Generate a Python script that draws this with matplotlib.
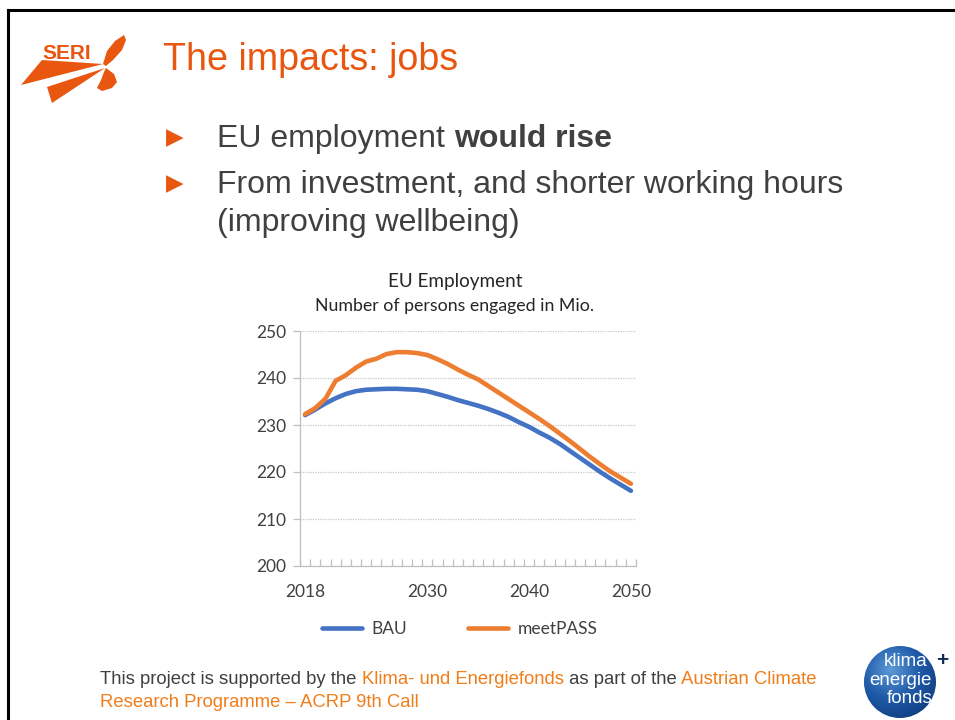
import matplotlib
matplotlib.use("Agg")
import matplotlib.pyplot as plt
import numpy as np
from matplotlib.patches import Polygon, Circle

years = list(range(2018, 2051))
bau = [232.1, 233.3, 234.6, 235.7, 236.6, 237.2, 237.5, 237.6, 237.7, 237.7,
       237.6, 237.5, 237.2, 236.6, 236.0, 235.3, 234.7, 234.1, 233.4, 232.6,
       231.7, 230.6, 229.6, 228.4, 227.3, 226.0, 224.5, 223.0, 221.5, 220.0,
       218.6, 217.3, 216.0]
meetpass = [232.3, 233.6, 235.6, 239.4, 240.6, 242.2, 243.5, 244.1, 245.1, 245.5,
            245.5, 245.3, 244.9, 244.0, 243.0, 241.8, 240.7, 239.7, 238.3, 236.9,
            235.5, 234.1, 232.7, 231.3, 229.8, 228.2, 226.6, 224.9, 223.2, 221.6,
            220.1, 218.8, 217.5]
year_labels = [2018, 2030, 2040, 2050]
y_ticks = [200, 210, 220, 230, 240, 250]

ORANGE = '#e8560f'
ORANGE_LIGHT = '#f07d1a'
GREY_TXT = '#404040'
BLUE_LINE = '#4472C4'
ORANGE_LINE = '#ED7D31'

W, H = 955, 720
fig = plt.figure(figsize=(W / 100, H / 100), dpi=100)
fig.patch.set_facecolor('white')

# background layer in pixel coordinates
bg = fig.add_axes([0, 0, 1, 1])
bg.set_xlim(0, W)
bg.set_ylim(H, 0)
bg.axis('off')

# slide border (top and left visible)
bg.plot([8, W], [10, 10], color='black', lw=2.2)
bg.plot([8, 8], [10, H], color='black', lw=2.2)

# SERI logo
bg.add_patch(Polygon([(42, 60), (103, 64), (21, 85)], closed=True, color=ORANGE, lw=0))
bg.add_patch(Polygon([(47, 87), (105, 68), (52, 103)], closed=True, color=ORANGE, lw=0))
bg.add_patch(Polygon([(103, 64), (107, 51), (115, 41), (124, 35), (126, 40), (122, 50),
                      (113, 60), (106, 66)], closed=True, color=ORANGE, lw=0))
bg.add_patch(Polygon([(106, 68), (114, 74), (117, 82), (112, 88), (102, 91), (97, 88),
                      (101, 80), (104, 72)], closed=True, color=ORANGE, lw=0))
bg.text(42, 59, 'SERI', family=['Liberation Sans Narrow', 'Liberation Sans'],
        fontweight='bold', fontsize=15, color=ORANGE, va='baseline', ha='left')

# title
bg.text(163, 70, 'The impacts: jobs', family='Liberation Sans', fontsize=27.1,
        color=ORANGE, va='baseline', ha='left')

renderer = fig.canvas.get_renderer()


def text_width(s, **kw):
    t = bg.text(0, 0, s + '|', **kw)
    t2 = bg.text(0, 0, '|', **kw)
    w = t.get_window_extent(renderer).width - t2.get_window_extent(renderer).width
    t.remove()
    t2.remove()
    return w


def put_runs(x, y, runs, **kw):
    for s, color, weight in runs:
        bg.text(x, y, s, color=color, fontweight=weight, va='baseline', ha='left', **kw)
        x += text_width(s, fontweight=weight, **kw)


bullet_kw = dict(family='Liberation Sans', fontsize=23)
for by in [138, 184]:
    bg.text(166, by, '\u25b6', family='DejaVu Sans', fontsize=16.5, color=ORANGE,
            va='center', ha='left')
put_runs(217, 147, [('EU employment ', GREY_TXT, 'normal'),
                    ('would rise', GREY_TXT, 'bold')], **bullet_kw)
put_runs(217, 193, [('From investment, and shorter working hours', GREY_TXT, 'normal')], **bullet_kw)
put_runs(217, 231, [('(improving wellbeing)', GREY_TXT, 'normal')], **bullet_kw)

# chart titles
chart_font = 'Lato'
bg.text(455, 282, 'EU Employment', family=chart_font, fontsize=13.6, color='#262626',
        ha='center', va='center')
bg.text(455, 306, 'Number of persons engaged in Mio.', family=chart_font, fontsize=12.8,
        color='#262626', ha='center', va='center')

# chart
ax = fig.add_axes([300 / W, 1 - 566 / H, 336 / W, 235 / H])
x = np.arange(len(years))
ax.plot(x, bau, color=BLUE_LINE, lw=3.3, label='BAU', solid_capstyle='round')
ax.plot(x, meetpass, color=ORANGE_LINE, lw=3.3, label='meetPASS', solid_capstyle='round')
ax.set_xlim(-0.5, len(years) - 0.5)
ax.set_ylim(200, 250)
ax.set_yticks(y_ticks)
ax.set_yticklabels([str(v) for v in y_ticks])
ax.set_xticks([years.index(y) for y in year_labels])
ax.set_xticklabels([str(y) for y in year_labels])
ax.set_xticks(np.arange(-0.5, len(years), 1), minor=True)
ax.tick_params(axis='x', which='major', length=0, pad=13, labelsize=12.5, labelcolor=GREY_TXT)
ax.tick_params(axis='x', which='minor', direction='in', length=5, color='#bfbfbf', width=0.9)
ax.tick_params(axis='y', length=5, color='#bfbfbf', width=0.9, pad=5,
               labelsize=12.5, labelcolor=GREY_TXT)
for lab in ax.get_xticklabels() + ax.get_yticklabels():
    lab.set_family(chart_font)
ax.grid(axis='y', color='#c8c8c8', lw=0.9, linestyle=(0, (1, 1)))
ax.set_axisbelow(True)
for side in ['top', 'right']:
    ax.spines[side].set_visible(False)
for side in ['left', 'bottom']:
    ax.spines[side].set_color('#bfbfbf')
    ax.spines[side].set_linewidth(0.9)
ax.patch.set_alpha(0)

leg = fig.legend(*ax.get_legend_handles_labels(), ncol=2, loc='center',
                 bbox_to_anchor=(460 / W, 1 - 629 / H), frameon=False,
                 handlelength=2.3, handletextpad=0.57, columnspacing=3.5,
                 prop={'family': chart_font, 'size': 12.5})
for t in leg.get_texts():
    t.set_color(GREY_TXT)

# footer
foot_kw = dict(family='Liberation Sans', fontsize=13.3)
put_runs(100, 684, [('This project is supported by the ', GREY_TXT, 'normal'),
                    ('Klima- und Energiefonds', ORANGE_LIGHT, 'normal'),
                    (' as part of the ', GREY_TXT, 'normal'),
                    ('Austrian Climate', ORANGE_LIGHT, 'normal')], **foot_kw)
put_runs(100, 707, [('Research Programme \u2013 ACRP 9th Call', ORANGE_LIGHT, 'normal')], **foot_kw)

# klima+energie fonds logo
cx, cy, r = 900, 682, 36
gy, gx = np.mgrid[-1:1:200j, -1:1:200j]
dist = np.sqrt((gx + 0.25) ** 2 + (gy + 0.35) ** 2)
img = bg.imshow(dist, cmap=matplotlib.colors.LinearSegmentedColormap.from_list(
    'kb', ['#5d9ad8', '#1f5ba8', '#0d3a7a']), extent=(cx - r, cx + r, cy + r, cy - r),
    vmin=0, vmax=1.6, zorder=2)
circ = Circle((cx, cy), r, transform=bg.transData)
img.set_clip_path(circ)
bg.set_xlim(0, W)
bg.set_ylim(H, 0)
logo_kw = dict(family='Liberation Sans', fontsize=13.5, color='white',
               ha='center', va='baseline', zorder=3)
bg.text(906, 666, 'klima', **logo_kw)
bg.text(900, 685, 'energie', **logo_kw)
bg.text(910, 703, 'fonds', **logo_kw)
bg.text(942, 666, '+', family='Liberation Sans', fontsize=15, fontweight='bold',
        color='#0d2a5a', ha='center', va='baseline', zorder=3)

fig.savefig('out.png', dpi=100)
